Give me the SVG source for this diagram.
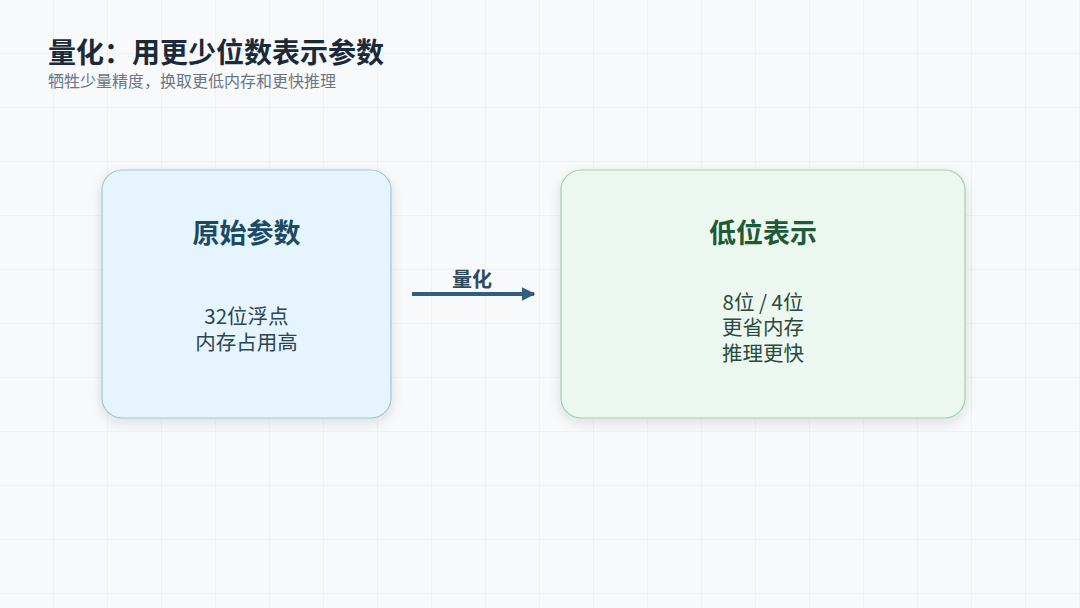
<svg xmlns="http://www.w3.org/2000/svg" width="1080" height="608" viewBox="0 0 1080 608">
<defs>
<pattern id="grid" width="54" height="54" patternUnits="userSpaceOnUse">
<path d="M54 0V54M0 54H54" fill="none" stroke="#e4e9ee" stroke-width="1"/>
</pattern>
<filter id="sh" x="-20%" y="-20%" width="140%" height="140%">
<feDropShadow dx="0" dy="4" stdDeviation="6" flood-color="#1a2a3a" flood-opacity="0.12"/>
</filter>
<marker id="arr" viewBox="0 0 10 10" refX="9" refY="5" markerWidth="3.4" markerHeight="3.4" orient="auto">
<path d="M0 0L10 5L0 10Z" fill="#2f5f80"/>
</marker>
<style>
text{font-family:"Noto Sans CJK SC","Noto Sans",sans-serif}
.t{font-size:27px;font-weight:700;text-anchor:middle}
.b{font-size:20.5px;text-anchor:middle}
</style>
</defs>
<rect width="1080" height="608" fill="#f7f9fb"/>
<rect width="1080" height="608" fill="url(#grid)"/>
<g id="title">
<text x="48" y="63" font-size="28" font-weight="700" fill="#1b2a38">量化：用更少位数表示参数</text>
<text x="48" y="87" font-size="16" fill="#6b7684">牺牲少量精度，换取更低内存和更快推理</text>
</g>
<g id="connectors">
<line x1="412" y1="294" x2="534" y2="294" stroke="#2f5f80" stroke-width="4" marker-end="url(#arr)"/>
<text x="472" y="287" font-size="20" font-weight="700" fill="#2f4a5e" text-anchor="middle">量化</text>
</g>
<g id="node-original">
<rect x="102" y="170" width="289" height="248" rx="20" fill="#e6f4fd" stroke="#9fc6dc" stroke-width="1.2" filter="url(#sh)"/>
<text class="t" x="246.5" y="243" fill="#1d4a63">原始参数</text>
<text class="b" x="246.5" y="324" fill="#2b4556">32位浮点</text>
<text class="b" x="246.5" y="350" fill="#2b4556">内存占用高</text>
</g>
<g id="node-lowbit">
<rect x="561" y="170" width="404" height="248" rx="20" fill="#ebf7ef" stroke="#9fd0b0" stroke-width="1.2" filter="url(#sh)"/>
<text class="t" x="763" y="243" fill="#1e5a38">低位表示</text>
<text class="b" x="763" y="310" fill="#2b4a3a">8位 / 4位</text>
<text class="b" x="763" y="335" fill="#2b4a3a">更省内存</text>
<text class="b" x="763" y="361" fill="#2b4a3a">推理更快</text>
</g>
</svg>
